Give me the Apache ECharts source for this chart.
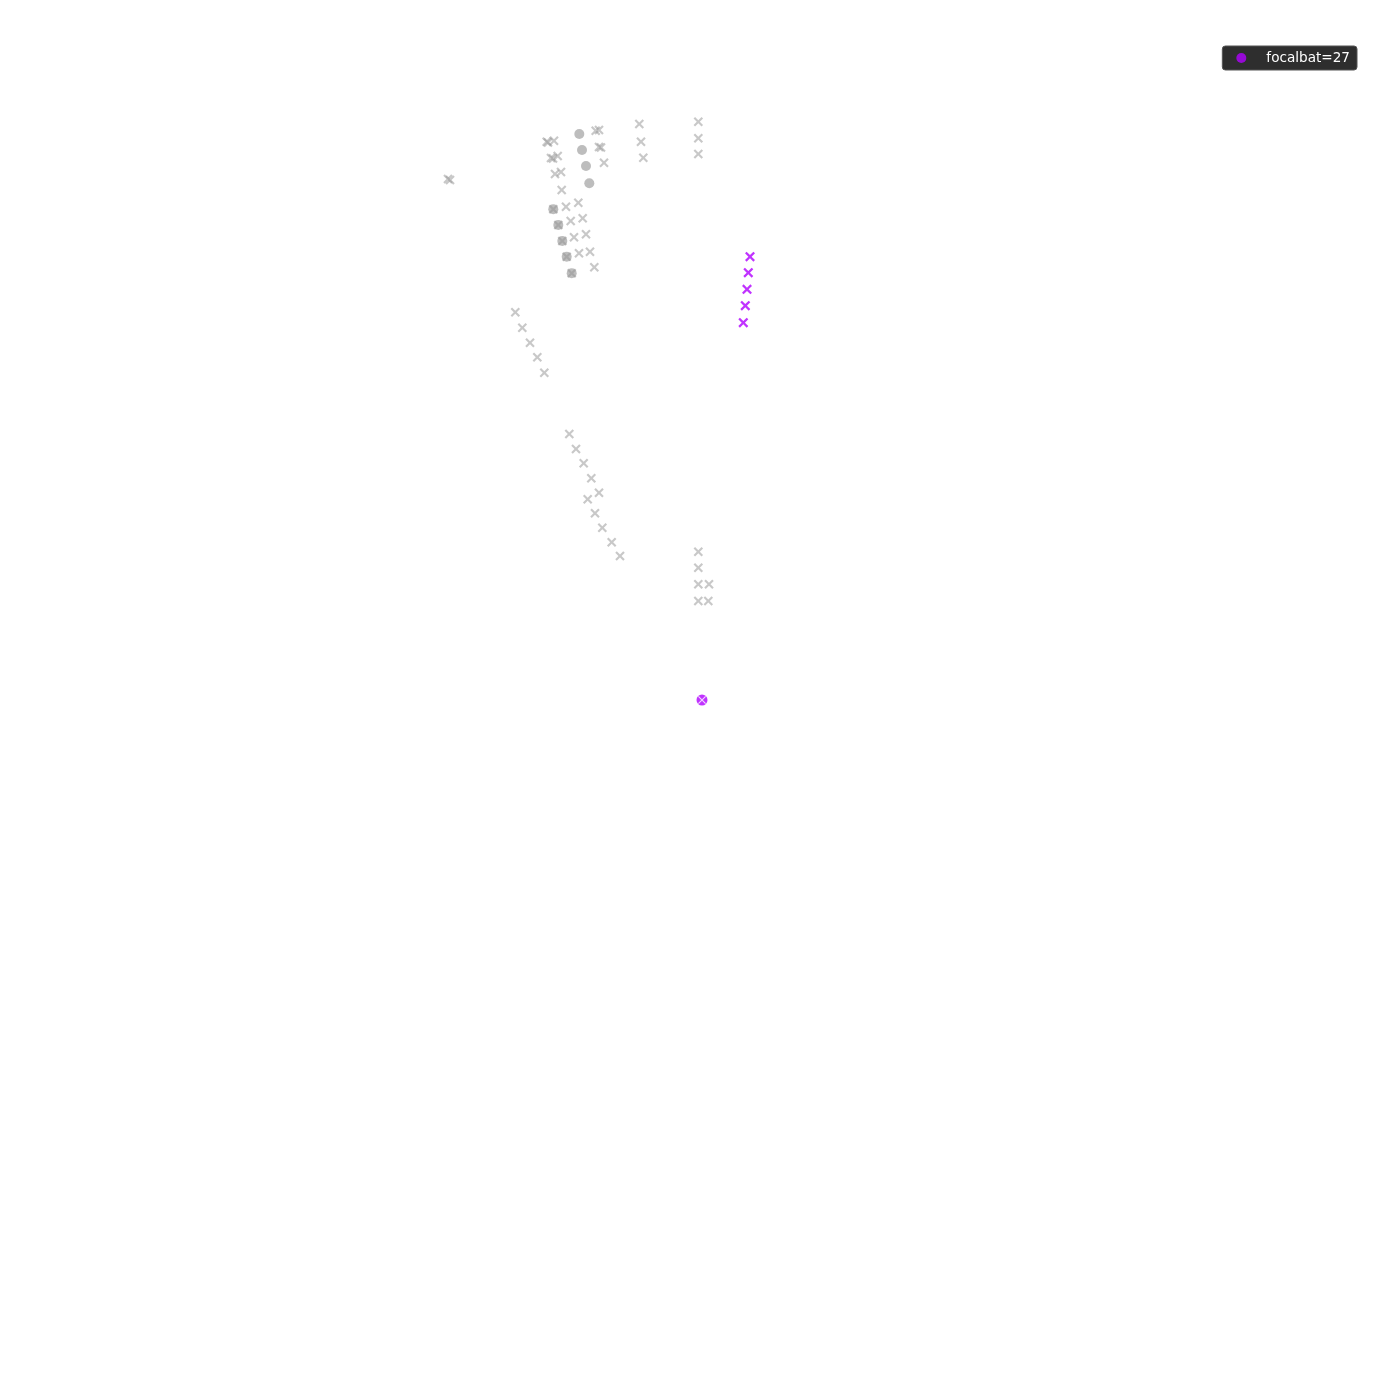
<!DOCTYPE html>
<html>
<head>
<meta charset="utf-8">
<script src="https://cdn.jsdelivr.net/npm/echarts@6/dist/echarts.min.js"></script>
<style>html,body{margin:0;padding:0;background:#fff}#chart{width:1400px;height:1400px}</style>
</head>
<body>
<div id="chart"></div>
<script>
// positions in metres (x, y)
const otherBatCalls = [
  [-25.2,52.1],[-25.0,52.0],
  [-15.33,55.83],[-15.2,55.75],[-14.6,55.93],
  [-10.43,56.93],[-10.1,57.0],[-6.07,57.6],[-0.17,57.83],
  [-10.1,55.3],[-9.9,55.25],
  [-14.9,54.2],[-14.7,54.15],[-14.23,54.4],
  [-5.9,55.83],[-0.17,56.17],
  [-9.6,53.73],[-5.67,54.23],[-0.17,54.6],
  [-14.5,52.6],[-13.9,52.8],[-13.83,51.0],
  [-13.4,49.33],[-12.17,49.73],
  [-12.93,47.9],[-11.73,48.17],
  [-12.6,46.27],[-11.4,46.57],
  [-12.1,44.67],[-11.0,44.83],
  [-10.57,43.27],
  [-14.67,49.07],[-14.17,47.5],[-13.77,45.9],[-13.33,44.33],[-12.83,42.67],
  [-18.47,38.77],[-17.77,37.23],[-17.0,35.73],[-16.27,34.27],[-15.57,32.73],
  [-13.07,26.6],[-12.4,25.1],[-11.63,23.67],[-10.87,22.17],[-10.1,20.73],
  [-11.23,20.07],[-10.5,18.67],[-9.77,17.23],[-8.83,15.77],[-8.0,14.4],
  [-0.17,14.83],[-0.17,13.23],[-0.17,11.57],[0.9,11.57],[-0.17,9.9],[0.83,9.9]
];
const otherBatPositions = [
  [-12.07,56.6],[-11.8,55.0],[-11.4,53.4],[-11.07,51.67],
  [-14.67,49.07],[-14.17,47.5],[-13.77,45.9],[-13.33,44.33],[-12.83,42.67]
];
const focalBatCalls = [
  [5.0,44.33],[4.83,42.73],[4.7,41.07],[4.53,39.43],[4.33,37.73]
];
const micPosition = [[0.2,0.0]];
const focalName = 'focalbat=27';

const crossPath = 'path://M0,1.6L1.6,0L5,3.4L8.4,0L10,1.6L6.6,5L10,8.4L8.4,10L5,6.6L1.6,10L0,8.4L3.4,5Z';
const thinCross = 'path://M0,1L1,0L5,4L9,0L10,1L6,5L10,9L9,10L5,6L1,10L0,9L4,5Z';
const purple = '#b000ff';

const chart = echarts.init(document.getElementById('chart'));
chart.setOption({
  animation: false,
  backgroundColor: '#ffffff',
  grid: {left: 0, right: 0, top: 0, bottom: 0},
  xAxis: {type: 'value', min: -70, max: 70, show: false},
  yAxis: {type: 'value', min: -70, max: 70, show: false},
  legend: {
    data: [{name: focalName, icon: 'circle', itemStyle: {color: purple}}],
    right: 43, top: 46,
    backgroundColor: '#2e2e2e',
    borderColor: '#555', borderWidth: 1, borderRadius: 3,
    padding: [5, 7, 5, 14],
    itemWidth: 10, itemHeight: 10,
    textStyle: {color: '#ffffff', fontSize: 13.6, fontFamily: 'DejaVu Sans', padding: [0, 0, 0, 15]}
  },
  series: [
    {
      name: 'others-pos', type: 'scatter', data: otherBatPositions,
      symbol: 'circle', symbolSize: 10, silent: true,
      itemStyle: {color: 'rgba(140,140,140,0.72)'}
    },
    {
      name: 'others', type: 'scatter', data: otherBatCalls,
      symbol: crossPath, symbolSize: 9.5, silent: true,
      itemStyle: {color: 'rgba(150,150,150,0.65)'}
    },
    {
      name: focalName, type: 'scatter', data: focalBatCalls,
      symbol: crossPath, symbolSize: 10, silent: true,
      itemStyle: {color: purple}
    },
    {
      name: focalName, type: 'scatter', data: micPosition,
      symbol: 'circle', symbolSize: 11, silent: true,
      itemStyle: {color: purple}
    },
    {
      name: 'mic-overlay', type: 'scatter', data: micPosition,
      symbol: thinCross, symbolSize: 8, silent: true, z: 5,
      itemStyle: {color: '#ffffff'}
    }
  ]
});
</script>
</body>
</html>
